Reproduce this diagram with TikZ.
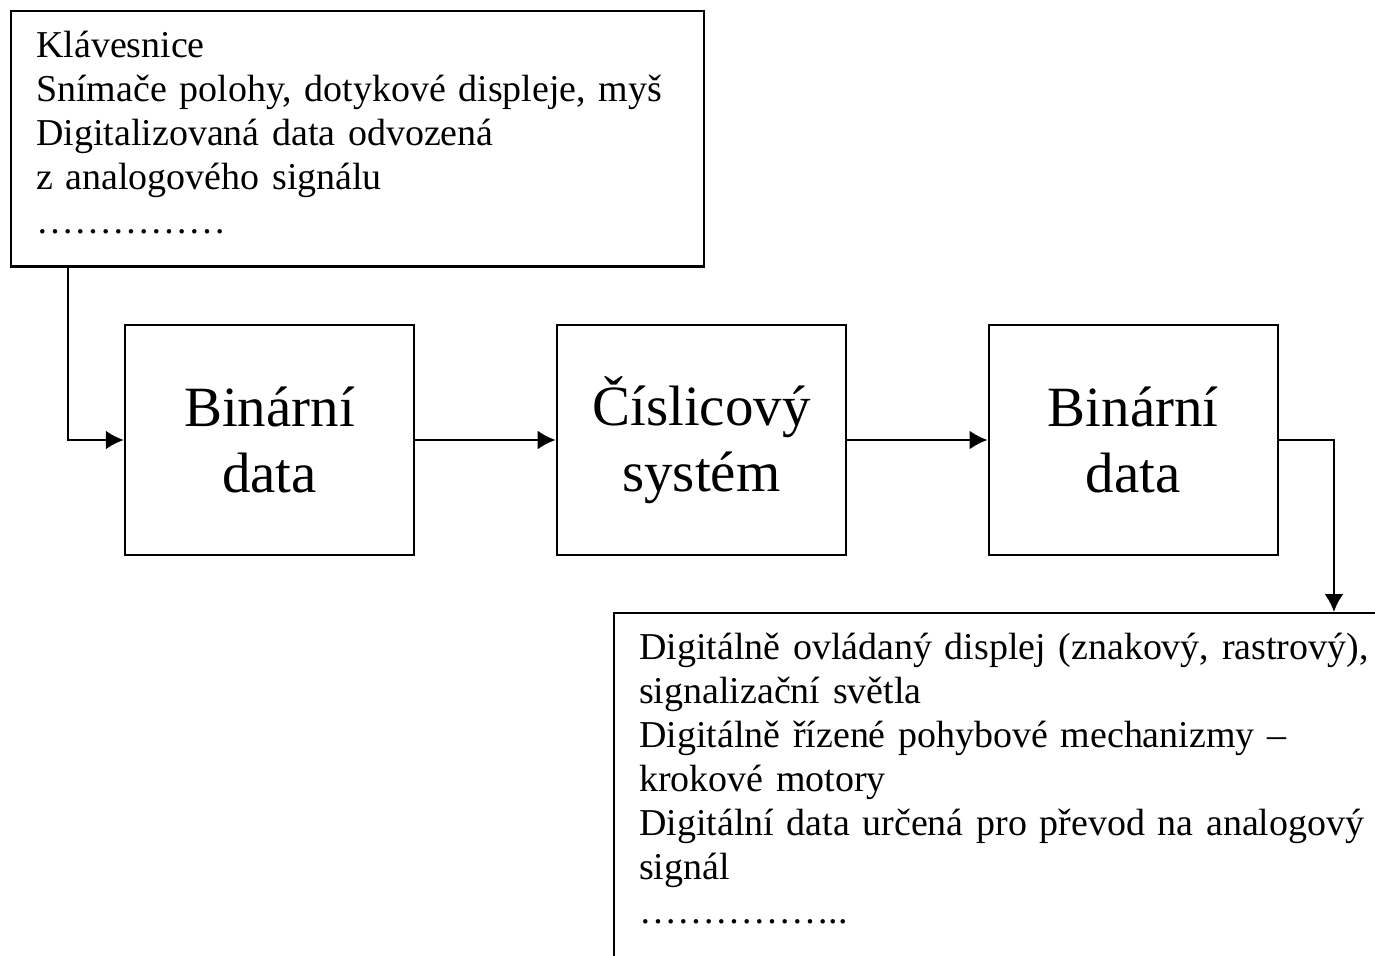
\documentclass[tikz,border=0pt]{standalone}
\usepackage{fontspec}
\setmainfont{Liberation Serif}
\usetikzlibrary{positioning,arrows.meta}
\tikzset{>={Latex[length=0.36cm,width=0.38cm]}}

\begin{document}
\begin{tikzpicture}[x=0.02cm, y=-0.02cm, line width=1.4pt,
    listbox/.style={draw, align=left, anchor=north west, inner xsep=0.5cm,
      font=\fontsize{21.6}{25}\selectfont},
    block/.style={draw, align=center, minimum width=5.78cm, minimum height=4.6cm,
      font=\fontsize{32.4}{37.4}\selectfont}]
      % page frame
      \useasboundingbox (0,0) rectangle (1375,956);
      \clip (0,0) rectangle (1375,956);
      % inputs
      \node[listbox, minimum width=13.86cm, text width=12.86cm, inner ysep=0.4cm] (inbox) at (10,10)
        {Klávesnice\\Snímače polohy, dotykové displeje, myš\\Digitalizovaná data odvozená\\z analogového signálu\\……………\rule[-0.26cm]{0pt}{0pt}};
      % chain of blocks
      \node[block] (bin1) at (269.5,440) {Binární\\data};
      \node[block, right=2.81cm of bin1] (cs) {Číslicový\\systém};
      \node[block, right=2.81cm of cs] (bin2) {Binární\\data};
      % outputs, cut off by the page
      \node[listbox, text width=16cm, inner ysep=0.4cm] (outbox) at (613,612)
        {Digitálně ovládaný displej (znakový, rastrový),\\signalizační světla\\Digitálně řízené pohybové mechanizmy –\\krokové motory\\Digitální data určená pro převod na analogový\\signál\\……………..\\~};
      % connections
      \draw [->] (inbox.south west) ++(58,0) |- (bin1.west);
      \draw [->] (bin1) -- (cs);
      \draw [->] (cs) -- (bin2);
      \draw [->] (bin2.east) -- ++(55,0) coordinate (turn) -- (turn |- outbox.north);
\end{tikzpicture}
\end{document}
